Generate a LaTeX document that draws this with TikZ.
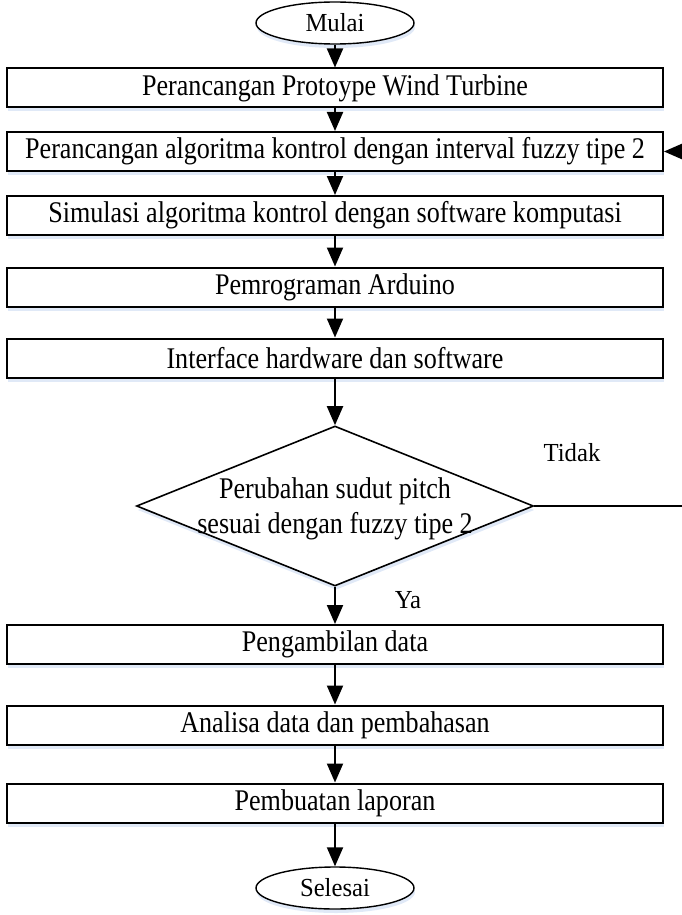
\documentclass[tikz,border=0pt]{standalone}
\usepackage{fontspec}
\setmainfont{Liberation Serif}[FakeStretch=0.87]
\newfontfamily\termfont{Liberation Serif}[FakeStretch=0.95]
\usetikzlibrary{shapes.geometric,arrows.meta,shadows}
\definecolor{shadowc}{RGB}{224,233,247}
\begin{document}
\begin{tikzpicture}[x=1pt,y=-1pt,
  txt/.style={font=\fontsize{30}{35}\selectfont},
  shd/.style={drop shadow={shadow xshift=1pt,shadow yshift=-4pt,fill=shadowc,opacity=1}},
  procbox/.style={txt,draw=black,line width=2pt,fill=white,minimum width=656pt,minimum height=39pt,inner sep=0pt,shd},
  term/.style={font=\termfont\fontsize{26}{30}\selectfont,draw=black,ellipse,line width=1.4pt,fill=white,minimum width=158pt,minimum height=42pt,inner sep=0pt,shd},
  decision/.style={draw=black,diamond,line width=1.6pt,fill=white,minimum width=397pt,minimum height=160pt,inner sep=0pt,shd},
  arr/.style={line width=2pt,-{Triangle[length=19pt,width=16pt]}},
  lbl/.style={font=\termfont\fontsize{26}{30}\selectfont,inner sep=0pt}
]
\useasboundingbox (0,0) rectangle (682,915);

\node[term] (mulai) at (335,23) {Mulai};
\node[procbox] (b1) at (335,88) {Perancangan Protoype Wind Turbine};
\node[procbox] (b2) at (335,151.5) {Perancangan algoritma kontrol dengan interval fuzzy tipe 2};
\node[procbox] (b3) at (335,215.5) {Simulasi algoritma kontrol dengan software komputasi};
\node[procbox] (b4) at (335,287) {Pemrograman Arduino};
\node[procbox] (b5) at (335,358) {Interface hardware dan software};
\node[decision] (dec) at (335,506) {};
\node[txt,align=center,inner sep=0pt] (dect) at (335,509) {Perubahan sudut pitch\\sesuai dengan fuzzy tipe 2};
\node[procbox] (b6) at (335,644.5) {Pengambilan data};
\node[procbox] (b7) at (335,725) {Analisa data dan pembahasan};
\node[procbox] (b8) at (335,803) {Pembuatan laporan};
\node[term] (selesai) at (335,888) {Selesai};

\node[lbl] (tidak) at (572,453) {Tidak};
\node[lbl] (ya) at (408,600) {Ya};

\draw[arr] (mulai) -- (b1);
\draw[arr] (b1) -- (b2);
\draw[arr] (b2) -- (b3);
\draw[arr] (b3) -- (b4);
\draw[arr] (b4) -- (b5);
\draw[arr] (b5) -- (dec);
\draw[arr] (dec) -- (b6);
\draw[arr] (b6) -- (b7);
\draw[arr] (b7) -- (b8);
\draw[arr] (b8) -- (selesai);

\coordinate (fbR) at (682,506);
\coordinate (fbT) at (682,151.5);
\draw[line width=1.6pt] (dec.east) -- (fbR);
\draw[arr] (fbT) -- (b2.east);
\end{tikzpicture}
\end{document}
